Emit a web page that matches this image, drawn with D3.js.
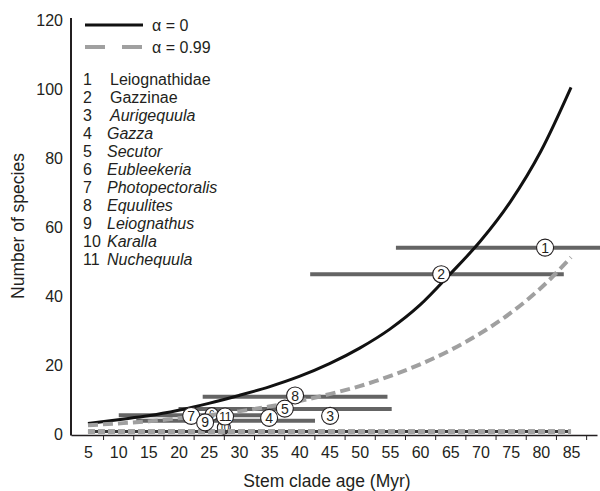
<!DOCTYPE html>
<html>
<head>
<meta charset="utf-8">
<script src="https://cdn.jsdelivr.net/npm/d3@7"></script>
<style>
  html, body { margin: 0; padding: 0; background: #fff; }
  svg { display: block; font-family: "Liberation Sans", Arial, sans-serif; }
</style>
</head>
<body>
<svg id="chart" width="600" height="491"></svg>
<script>
// ---- data ----
const xTickLabels = [5, 10, 15, 20, 25, 30, 35, 40, 45, 50, 55, 60, 65, 70, 75, 80, 85];
const xTickMarks = [7.5, 12.5, 17.5, 22.5, 27.5, 32.5, 37.5, 42.5, 47.5, 52.5, 57.5, 62.5, 67.5, 72.5, 77.5, 82.5, 87.5];
const yTickLabels = [0, 20, 40, 60, 80, 100, 120];

const ages = [5, 10, 15, 20, 25, 30, 35, 40, 45, 50, 55, 60, 65, 70, 75, 80, 85];
const alpha0 = [3.2, 4.3, 5.4, 7.0, 9.0, 11.3, 13.8, 16.8, 20.5, 25.0, 30.5, 37.5, 46.5, 56.0, 67.5, 82.0, 100.5];
const alpha099 = [2.7, 3.2, 3.8, 4.7, 5.6, 6.7, 8.1, 9.7, 11.7, 14.0, 16.9, 20.3, 24.4, 29.3, 35.2, 42.4, 51.3];
const lowerAlpha0 = [0.9, 0.9, 0.9, 0.9, 0.9, 0.9, 0.9, 0.9, 0.9, 0.9, 0.9, 0.9, 0.9, 0.9, 0.9, 0.9, 0.9];
const lowerAlpha099 = [0.9, 0.9, 0.9, 0.9, 0.9, 0.9, 0.9, 0.9, 0.9, 0.9, 0.9, 0.9, 0.9, 0.9, 0.9, 0.9, 0.9];

const cladeIds = [1, 2, 3, 4, 5, 6, 7, 8, 9, 10, 11];
const cladeNames = ["Leiognathidae", "Gazzinae", "Aurigequula", "Gazza", "Secutor", "Eubleekeria",
                    "Photopectoralis", "Equulites", "Leiognathus", "Karalla", "Nuchequula"];
const cladeItalic = [false, false, true, true, true, true, true, true, true, true, true];
const cladeSpecies = [54.1, 46.4, 5.4, 4.8, 7.5, 5.9, 5.4, 11.3, 3.5, 2.0, 5.2];
const cladeAge = [80.7, 63.5, 45.1, 35.0, 37.6, 25.5, 22.1, 39.3, 24.4, 27.5, 27.7];

// age ranges (bars)
const barIds = [1, 2, 4, 5, 7, 8];
const barLo = [56.0, 41.8, 13.0, 20.0, 10.1, 24.0];
const barHi = [92.0, 83.8, 42.6, 55.3, 36.0, 54.6];
const barSpecies = [54.1, 46.4, 4.0, 7.4, 5.6, 10.9];

// ---- drawing ----
const svg = d3.select("#chart");
const x = d3.scaleLinear().domain([2.19, 89.3]).range([71, 597]);
const y = d3.scaleLinear().domain([0, 120]).range([434.5, 20]);
const ink = "#231f20";

// y axis
const yAxis = svg.append("g").attr("transform", "translate(71,0)")
  .call(d3.axisLeft(y).tickValues(yTickLabels).tickSize(0).tickPadding(8).tickFormat(d3.format("d")));
yAxis.select(".domain").attr("stroke", ink).attr("stroke-width", 2)
  .attr("d", `M0,${y(0) + 1}V18`);
yAxis.selectAll("text").attr("font-size", 16).attr("fill", ink).attr("font-family", "Liberation Sans, Arial, sans-serif");

// x axis marks
const xAxisMarks = svg.append("g").attr("transform", "translate(0,435)")
  .call(d3.axisBottom(x).tickValues(xTickMarks).tickSize(5).tickSizeOuter(0).tickFormat(""));
xAxisMarks.select(".domain").attr("stroke", ink).attr("stroke-width", 1.6);
xAxisMarks.selectAll(".tick line").attr("stroke", ink).attr("stroke-width", 1);

const xAxisLabels = svg.append("g").attr("transform", "translate(0,435)")
  .call(d3.axisBottom(x).tickValues(xTickLabels).tickSize(0).tickPadding(12).tickFormat(d3.format("d")));
xAxisLabels.select(".domain").remove();
xAxisLabels.selectAll("text").attr("font-size", 16).attr("fill", ink).attr("font-family", "Liberation Sans, Arial, sans-serif");

// axis titles
svg.append("text").attr("x", 327).attr("y", 487).attr("text-anchor", "middle")
  .attr("font-size", 17.5).attr("fill", ink).text("Stem clade age (Myr)");
svg.append("text").attr("transform", "translate(24,226) rotate(-90)").attr("text-anchor", "middle")
  .attr("font-size", 17.5).attr("fill", ink).text("Number of species");

// bars
const bars = barIds.map((id, i) => ({ id, lo: barLo[i], hi: barHi[i], n: barSpecies[i] }));
svg.append("g").selectAll("line").data(bars).join("line")
  .attr("x1", d => x(d.lo)).attr("x2", d => x(d.hi))
  .attr("y1", d => y(d.n)).attr("y2", d => y(d.n))
  .attr("stroke", "#646464").attr("stroke-width", 4);

const clades = cladeIds.map((id, i) => ({ id, name: cladeNames[i], italic: cladeItalic[i], n: cladeSpecies[i], age: cladeAge[i] }));
const backIds = [10, 6];

function drawCircles(g, data, small) {
  const c = g.selectAll("g").data(data).join("g")
    .attr("transform", d => `translate(${x(d.age)},${y(d.n)})`);
  c.append("circle").attr("r", small ? 6.5 : 8.5).attr("fill", "#fff").attr("stroke", ink).attr("stroke-width", 1.1);
  c.append("text").attr("text-anchor", "middle").attr("dy", "0.36em")
    .attr("font-size", small ? 10 : (d => d.id > 9 ? 13 : 14)).attr("letter-spacing", d => d.id > 9 ? -0.8 : 0)
    .attr("fill", ink).text(d => d.id);
}
drawCircles(svg.append("g"), clades.filter(d => backIds.includes(d.id)), true);

// curves
const line = d3.line().x(d => x(d[0])).y(d => y(d[1])).curve(d3.curveMonotoneX);
svg.append("path").datum(ages.map((a, i) => [a, lowerAlpha0[i]])).attr("d", line)
  .attr("fill", "none").attr("stroke", "#3a3a3a").attr("stroke-width", 3);
svg.append("path").datum(ages.map((a, i) => [a, lowerAlpha099[i]])).attr("d", line)
  .attr("fill", "none").attr("stroke", "#a3a3a3").attr("stroke-width", 5)
  .attr("stroke-dasharray", "7,3").attr("stroke-linecap", "butt");

svg.append("path").datum(ages.map((a, i) => [a, alpha0[i]])).attr("d", line)
  .attr("fill", "none").attr("stroke", "#111").attr("stroke-width", 3);
svg.append("path").datum(ages.map((a, i) => [a, alpha099[i]])).attr("d", line)
  .attr("fill", "none").attr("stroke", "#a0a0a0").attr("stroke-width", 4)
  .attr("stroke-dasharray", "10,5");

drawCircles(svg.append("g"), clades.filter(d => !backIds.includes(d.id)), false);

// legend lines
const leg = svg.append("g");
leg.append("line").attr("x1", 85).attr("x2", 143).attr("y1", 25).attr("y2", 25)
  .attr("stroke", "#111").attr("stroke-width", 3);
leg.append("text").attr("x", 152).attr("y", 31).attr("font-size", 16).attr("fill", ink).text("α = 0");
leg.append("line").attr("x1", 85).attr("x2", 143).attr("y1", 47).attr("y2", 47)
  .attr("stroke", "#a0a0a0").attr("stroke-width", 4).attr("stroke-dasharray", "20,17");
leg.append("text").attr("x", 152).attr("y", 53).attr("font-size", 16).attr("fill", ink).text("α = 0.99");

// legend list
const list = leg.append("g").selectAll("g").data(clades).join("g")
  .attr("transform", (d, i) => `translate(0,${85 + i * 18})`);
list.append("text").attr("x", 83).attr("font-size", 16).attr("fill", ink).text(d => d.id);
list.append("text").attr("x", (d, i) => i < 3 ? 110 : 107).attr("font-size", 16).attr("fill", ink)
  .attr("font-style", d => d.italic ? "italic" : "normal").text(d => d.name);
</script>
</body>
</html>
